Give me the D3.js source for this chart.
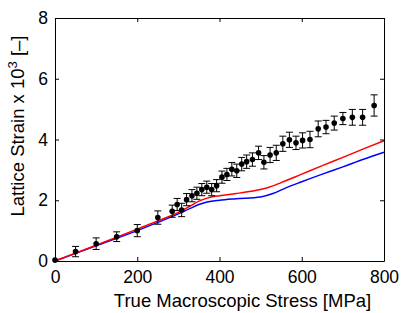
<!DOCTYPE html>
<html>
<head>
<meta charset="utf-8">
<script src="https://cdn.jsdelivr.net/npm/d3@7"></script>
<style>
  body { margin: 0; background: #fff; }
  text { font-family: "Liberation Sans", Arial, sans-serif; fill: #000; }
</style>
</head>
<body>
<svg id="chart"></svg>
<script>
// measured points (stress MPa, lattice strain x10^3, error)
const stress = [0, 50, 100, 150, 200, 250, 285, 297, 308, 320, 333, 345, 357, 369, 381, 393, 406, 418, 430, 442, 454, 466, 480, 495, 508, 523, 538, 554, 570, 586, 602, 620, 640, 659, 679, 700, 723, 748, 776];
const strain = [0.03, 0.31, 0.57, 0.8, 1.0, 1.43, 1.64, 1.86, 1.68, 2.02, 2.15, 2.23, 2.35, 2.43, 2.35, 2.48, 2.76, 2.85, 3.02, 2.97, 3.19, 3.27, 3.34, 3.56, 3.25, 3.49, 3.56, 3.86, 3.99, 3.89, 3.97, 4.0, 4.35, 4.41, 4.54, 4.69, 4.73, 4.73, 5.12];
const errs   = [0, 0.17, 0.19, 0.16, 0.2, 0.22, 0.2, 0.2, 0.22, 0.2, 0.2, 0.2, 0.2, 0.2, 0.2, 0.2, 0.2, 0.2, 0.22, 0.22, 0.22, 0.22, 0.22, 0.22, 0.22, 0.25, 0.25, 0.25, 0.25, 0.22, 0.25, 0.27, 0.26, 0.22, 0.23, 0.2, 0.26, 0.26, 0.35];

// model curves
const redStress  = [0, 100, 200, 250, 300, 330, 350, 370, 400, 440, 490, 520, 550, 600, 650, 700, 750, 800];
const redStrain  = [0, 0.52, 1.05, 1.32, 1.6, 1.82, 1.97, 2.07, 2.15, 2.22, 2.33, 2.43, 2.58, 2.86, 3.14, 3.41, 3.69, 3.96];
const blueStress = [0, 100, 200, 250, 300, 330, 350, 370, 400, 440, 500, 530, 560, 600, 650, 700, 750, 800];
const blueStrain = [0, 0.5, 1.0, 1.27, 1.55, 1.74, 1.86, 1.94, 2.0, 2.05, 2.11, 2.22, 2.4, 2.61, 2.86, 3.1, 3.35, 3.58];

const xTicks = [0, 200, 400, 600, 800];
const yTicks = [0, 2, 4, 6, 8];

const width = 407, height = 313;
const marginLeft = 55, marginRight = 23, marginTop = 18, marginBottom = 52;

const svg = d3.select("#chart")
    .attr("width", width)
    .attr("height", height);

const x = d3.scaleLinear().domain([0, 800]).range([marginLeft, width - marginRight]);
const y = d3.scaleLinear().domain([0, 8]).range([height - marginBottom, marginTop]);

const pts = stress.map((s, i) => ({s: s, e: strain[i], err: errs[i]}));

// lines
const line = d3.line().x(d => x(d[0])).y(d => y(d[1])).curve(d3.curveMonotoneX);
svg.append("path")
    .datum(blueStress.map((s, i) => [s, blueStrain[i]]))
    .attr("d", line)
    .attr("fill", "none")
    .attr("stroke", "#0000ff")
    .attr("stroke-width", 1.5);
svg.append("path")
    .datum(redStress.map((s, i) => [s, redStrain[i]]))
    .attr("d", line)
    .attr("fill", "none")
    .attr("stroke", "#ff0000")
    .attr("stroke-width", 1.5);

// error bars
const eb = svg.append("g").attr("stroke", "#000").attr("stroke-width", 1);
pts.filter(d => d.err > 0).forEach(function (d) {
    const cx = x(d.s);
    eb.append("line").attr("x1", cx).attr("x2", cx).attr("y1", y(d.e - d.err)).attr("y2", y(d.e + d.err));
    eb.append("line").attr("x1", cx - 3.5).attr("x2", cx + 3.5).attr("y1", y(d.e - d.err)).attr("y2", y(d.e - d.err));
    eb.append("line").attr("x1", cx - 3.5).attr("x2", cx + 3.5).attr("y1", y(d.e + d.err)).attr("y2", y(d.e + d.err));
});

svg.append("g")
    .selectAll("circle")
    .data(pts)
    .join("circle")
    .attr("cx", d => x(d.s))
    .attr("cy", d => y(d.e))
    .attr("r", 2.8)
    .attr("fill", "#000");

// axes box with inward ticks
const tl = 4;
svg.append("g")
    .attr("transform", `translate(0,${height - marginBottom})`)
    .call(d3.axisBottom(x).tickValues(xTicks).tickSizeInner(-tl).tickSizeOuter(0).tickPadding(10))
    .call(g => g.selectAll("text").attr("font-size", 17.5).attr("font-family", "Liberation Sans, Arial, sans-serif"));
svg.append("g")
    .attr("transform", `translate(${marginLeft},0)`)
    .call(d3.axisLeft(y).tickValues(yTicks).tickSizeInner(-tl).tickSizeOuter(0).tickPadding(7))
    .call(g => g.selectAll("text").attr("font-size", 17.5).attr("font-family", "Liberation Sans, Arial, sans-serif"));
svg.append("g")
    .attr("transform", `translate(0,${marginTop})`)
    .call(d3.axisTop(x).tickValues(xTicks).tickSizeInner(-tl).tickSizeOuter(0).tickFormat(""));
svg.append("g")
    .attr("transform", `translate(${width - marginRight},0)`)
    .call(d3.axisRight(y).tickValues(yTicks).tickSizeInner(-tl).tickSizeOuter(0).tickFormat(""));
svg.selectAll(".domain").attr("stroke", "#000");
svg.selectAll(".tick line").attr("stroke", "#000");

// axis titles
svg.append("text")
    .attr("x", (marginLeft + width - marginRight) / 2 + 23)
    .attr("y", 307)
    .attr("text-anchor", "middle")
    .attr("font-size", 18.5)
    .text("True Macroscopic Stress [MPa]");

const yl = svg.append("text")
    .attr("transform", `translate(24,126) rotate(-90)`)
    .attr("text-anchor", "middle")
    .attr("font-size", 18.5);
yl.append("tspan").text("Lattice Strain x 10");
yl.append("tspan").attr("dy", -7).attr("font-size", 13).text("3");
yl.append("tspan").attr("dy", 7).text(" [\u2013]");
</script>
</body>
</html>
